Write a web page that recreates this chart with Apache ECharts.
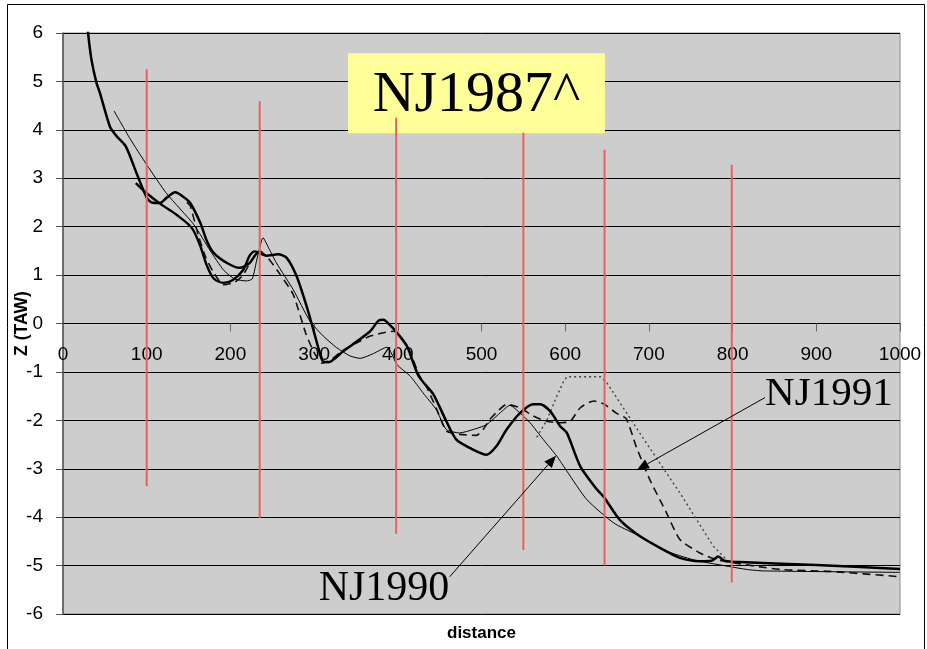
<!DOCTYPE html>
<html>
<head>
<meta charset="utf-8">
<script src="https://cdn.jsdelivr.net/npm/echarts@6/dist/echarts.min.js"></script>
<style>
  html, body { margin: 0; padding: 0; background: #fff; }
  #chart { width: 927px; height: 649px; }
</style>
</head>
<body>
<div id="chart"></div>
<script>
// Cross-shore profiles: distance (m) vs. level Z (TAW)
const xTickValues = [0, 100, 200, 300, 400, 500, 600, 700, 800, 900, 1000];
const yTickValues = [-6, -5, -4, -3, -2, -1, 0, 1, 2, 3, 4, 5, 6];

// NJ1987^ (bold solid, full length)
const nj1987 = [
  [29, 6.3], [30, 6.0], [34, 5.45], [40, 4.97], [44, 4.77], [56, 4.07], [64, 3.87], [75, 3.66],
  [88, 3.1], [100, 2.6], [106, 2.5], [116, 2.49], [124, 2.6], [134, 2.71], [142, 2.64],
  [152, 2.49], [164, 2.08], [172, 1.7], [180, 1.46], [196, 1.25], [211, 1.15], [223, 1.25],
  [233, 1.46], [243, 1.4], [257, 1.43], [267, 1.36], [279, 0.98], [291, 0.36], [299, -0.12],
  [305, -0.5], [310, -0.77], [317, -0.8], [335, -0.57], [351, -0.37], [367, -0.16], [377, 0.06],
  [383, 0.08], [391, -0.04], [399, -0.19], [411, -0.47], [425, -1.09], [442, -1.45], [458, -2.02],
  [470, -2.4], [486, -2.57], [506, -2.71], [518, -2.53], [530, -2.19], [546, -1.85], [562, -1.67],
  [570, -1.67], [582, -1.81], [594, -2.12], [602, -2.26], [618, -2.95], [638, -3.43], [646, -3.58],
  [665, -4.05], [689, -4.39], [717, -4.67], [737, -4.84], [761, -4.91], [775, -4.9], [783, -4.81],
  [790, -4.9], [801, -4.92], [900, -4.99], [1000, -5.07]
];

// Older bold profile on the upper beach
const beachBold = [
  [87, 2.9], [100, 2.69], [118, 2.45], [136, 2.24], [154, 1.97], [164, 1.6], [172, 1.19],
  [180, 0.93], [192, 0.84], [203, 0.9], [215, 1.1], [223, 1.4], [229, 1.49], [235, 1.46]
];

// NJ1990 (thin solid)
const nj1990 = [
  [61, 4.39], [80, 3.82], [100, 3.28], [124, 2.68], [156, 2.05], [176, 1.5], [192, 1.1],
  [205, 0.92], [219, 0.88], [226, 0.92], [232, 1.35], [239, 1.77], [246, 1.55], [255, 1.25],
  [275, 0.7], [295, 0.05], [311, -0.26], [327, -0.5], [343, -0.67], [355, -0.72], [371, -0.62],
  [387, -0.49], [392, -0.6], [399, -0.85], [415, -1.09], [430, -1.43], [446, -1.78], [458, -2.19],
  [474, -2.26], [490, -2.19], [506, -2.09], [522, -1.85], [534, -1.69], [546, -1.85], [558, -2.05],
  [574, -2.4], [590, -2.74], [602, -3.05], [626, -3.64], [658, -4.12], [685, -4.36], [721, -4.7],
  [753, -4.88], [773, -4.95], [817, -5.08], [837, -5.11], [1000, -5.14]
];

// NJ1991 (dashed)
const nj1991 = [
  [148, 2.5], [152, 2.43], [162, 1.8], [170, 1.39], [180, 1.05], [192, 0.8], [205, 0.85],
  [215, 1.0], [225, 1.3], [235, 1.5], [245, 1.35], [260, 1.0], [275, 0.6], [290, -0.2],
  [300, -0.6], [310, -0.82], [320, -0.75], [335, -0.55], [351, -0.4], [367, -0.26], [383, -0.19],
  [395, -0.16], [403, -0.26], [415, -0.6], [425, -1.05], [434, -1.3], [446, -1.75], [458, -2.22],
  [474, -2.29], [494, -2.31], [502, -2.19], [510, -1.98], [520, -1.8], [530, -1.67], [546, -1.74],
  [562, -1.91], [578, -2.02], [594, -2.05], [606, -2.02], [618, -1.74], [634, -1.6], [646, -1.66],
  [661, -1.85], [673, -1.97], [685, -2.55], [701, -3.22], [721, -3.91], [737, -4.46], [761, -4.74],
  [781, -4.88], [857, -5.08], [916, -5.12], [1000, -5.23]
];

// Dotted profile (nourishment design)
const designDotted = [
  [566, -2.35], [578, -2.0], [590, -1.5], [598, -1.2], [602, -1.1], [642, -1.1], [650, -1.23],
  [697, -2.47], [737, -3.5], [777, -4.6], [793, -4.88]
];

// Transect markers (red verticals)
const markerX = [100, 235, 398, 550, 647, 799];
const markerTop = [5.25, 4.59, 4.25, 3.94, 3.59, 3.28];
const markerBottom = [-3.36, -4.01, -4.34, -4.68, -5.0, -5.35];

// Annotation anchors in data units
const titleBox = { x1: 340.5, y1: 5.58, x2: 647.5, y2: 3.93, text: 'NJ1987^' };
const label1991 = { x: 915, y: -1.47, text: 'NJ1991', from: [838.7, -1.53], to: [685.8, -3.02] };
const label1990 = { x: 383.5, y: -5.48, text: 'NJ1990', from: [462, -5.23], to: [589, -2.73] };

const gridBox = { left: 63, top: 33, width: 837, height: 581 };
const yMin = -6, yMax = 6;

const chart = echarts.init(document.getElementById('chart'), null, { renderer: 'canvas' });

const lineBase = { type: 'line', symbol: 'none', showSymbol: false, clip: true, silent: true };

const markerSeries = markerX.map((x, i) => Object.assign({}, lineBase, {
  name: 'marker' + i,
  z: 5,
  data: [[x, markerTop[i]], [x, markerBottom[i]]],
  lineStyle: { color: '#E8625C', width: 2 }
}));

// the distance axis sits on Z = 0
const xAxisOffset = -gridBox.height * (0 - yMin) / (yMax - yMin);

const option = {
  backgroundColor: '#fff',
  animation: false,
  grid: Object.assign({
    show: true, backgroundColor: '#CDCDCD', borderColor: '#8a8a8a', borderWidth: 1,
    containLabel: false, outerBoundsMode: 'none'
  }, gridBox),
  xAxis: {
    type: 'value', min: 0, max: 1000, interval: 100, position: 'bottom',
    offset: xAxisOffset,
    axisLine: { show: true, onZero: false, lineStyle: { color: '#000', width: 1 } },
    axisTick: { show: true, length: 8, inside: false, lineStyle: { color: '#666' } },
    axisLabel: { color: '#000', fontSize: 19, fontFamily: 'Liberation Sans, Arial', margin: 22,
      formatter: v => xTickValues.includes(v) ? String(v) : '' },
    splitLine: { show: false }
  },
  yAxis: {
    type: 'value', min: yMin, max: yMax, interval: 1,
    axisLine: { show: true, onZero: false, lineStyle: { color: '#555', width: 1.5 } },
    axisTick: { show: true, length: 7, inside: false, lineStyle: { color: '#555' } },
    axisLabel: { color: '#000', fontSize: 19, fontFamily: 'Liberation Sans, Arial', margin: 20,
      formatter: v => yTickValues.includes(v) ? String(v) : '' },
    splitLine: { show: true, lineStyle: { color: '#000', width: 1 } },
    name: 'Z (TAW)', nameLocation: 'middle', nameGap: 32, nameMoveOverlap: false,
    nameTextStyle: { color: '#000', fontSize: 17.5, fontWeight: 'bold', fontFamily: 'Liberation Sans, Arial' }
  },
  series: [
    Object.assign({}, lineBase, { name: 'design', data: designDotted, z: 3,
      lineStyle: { color: '#444', width: 1.4, type: [2, 3] } }),
    Object.assign({}, lineBase, { name: 'NJ1991', data: nj1991, smooth: 0.2, z: 3,
      lineStyle: { color: '#111', width: 1.6, type: [8, 5] } }),
    Object.assign({}, lineBase, { name: 'NJ1990', data: nj1990, smooth: 0.2, z: 3,
      lineStyle: { color: '#000', width: 1 } }),
    Object.assign({}, lineBase, { name: 'beach', data: beachBold, smooth: 0.3, z: 4,
      lineStyle: { color: '#000', width: 2.4 } }),
    Object.assign({}, lineBase, { name: 'NJ1987^', data: nj1987, smooth: 0.25, z: 4,
      lineStyle: { color: '#000', width: 2.5 } })
  ].concat(markerSeries)
};

chart.setOption(option);

// Annotations placed from data coordinates
const toPx = p => chart.convertToPixel({ gridIndex: 0 }, p);

function arrow(fromPt, toPt) {
  const a = toPx(fromPt), b = toPx(toPt);
  const dx = b[0] - a[0], dy = b[1] - a[1];
  const len = Math.sqrt(dx * dx + dy * dy);
  const ux = dx / len, uy = dy / len;
  const L = 12, W = 5;
  const bx = b[0] - ux * L, by = b[1] - uy * L;
  return [
    { type: 'line', z: 20, shape: { x1: a[0], y1: a[1], x2: bx, y2: by },
      style: { stroke: '#000', lineWidth: 1 } },
    { type: 'polygon', z: 20, shape: { points: [
        [b[0], b[1]], [bx - uy * W, by + ux * W], [bx + uy * W, by - ux * W]
      ] }, style: { fill: '#000' } }
  ];
}

const tl = toPx([titleBox.x1, titleBox.y1]);
const br = toPx([titleBox.x2, titleBox.y2]);
const p91 = toPx([label1991.x, label1991.y]);
const p90 = toPx([label1990.x, label1990.y]);

const graphics = [
  // outer frame
  { type: 'rect', z: 0, shape: { x: 7.5, y: 4.5, width: 917, height: 700 },
    style: { fill: 'none', stroke: '#000', lineWidth: 1 } },
  // title box
  { type: 'rect', z: 1, shape: { x: tl[0], y: tl[1], width: br[0] - tl[0], height: br[1] - tl[1] },
    style: { fill: '#FFFF99' } },
  { type: 'text', z: 1, x: (tl[0] + br[0]) / 2, y: (tl[1] + br[1]) / 2 + 2,
    style: { text: titleBox.text, fill: '#000', font: '58px "Liberation Serif", "Times New Roman", serif',
      align: 'center', verticalAlign: 'middle' } },
  { type: 'text', z: 20, x: p91[0], y: p91[1],
    style: { text: label1991.text, fill: '#000', font: '41px "Liberation Serif", "Times New Roman", serif',
      align: 'center', verticalAlign: 'middle' } },
  { type: 'text', z: 20, x: p90[0], y: p90[1],
    style: { text: label1990.text, fill: '#000', font: '42px "Liberation Serif", "Times New Roman", serif',
      align: 'center', verticalAlign: 'middle' } },
  // x-axis title
  { type: 'text', z: 20, x: (gridBox.left + gridBox.left + gridBox.width) / 2, y: 633,
    style: { text: 'distance', fill: '#000', font: 'bold 17px "Liberation Sans", Arial, sans-serif',
      align: 'center', verticalAlign: 'middle' } }
].concat(arrow(label1991.from, label1991.to), arrow(label1990.from, label1990.to));

chart.setOption({ graphic: { elements: graphics } });
</script>
</body>
</html>
